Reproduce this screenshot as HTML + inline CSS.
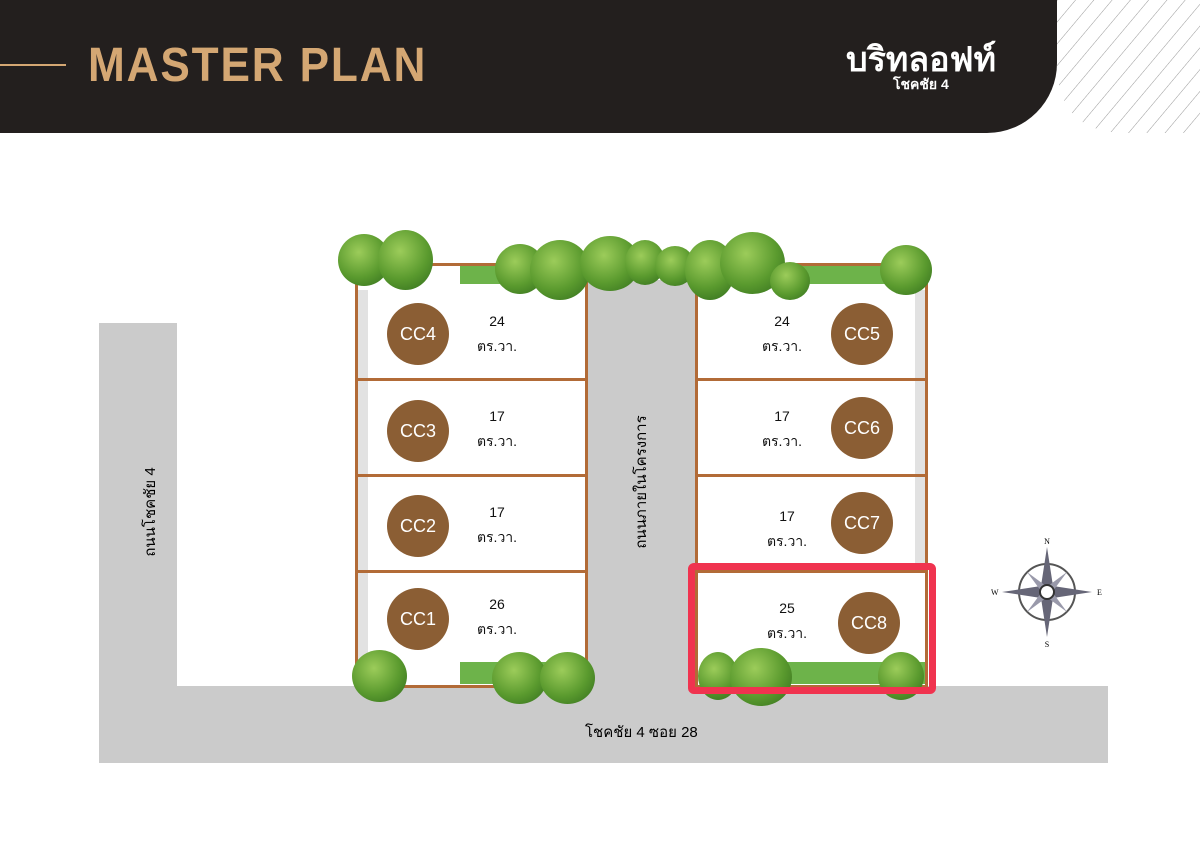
<!DOCTYPE html><html><head><meta charset="utf-8"><style>
body{margin:0;width:1200px;height:849px;position:relative;background:#fff;font-family:"Liberation Sans","Noto Sans CJK SC",sans-serif;overflow:hidden}
.a{position:absolute}
.hdr{left:0;top:0;width:1057px;height:133px;background:#231f1e;border-bottom-right-radius:70px}
.title{left:88px;top:38px;font-size:48px;font-weight:bold;color:#d4a773;letter-spacing:2px;transform:scaleX(0.92);transform-origin:left}
.plot{background:#fff;border:3px solid #b26b37;box-sizing:border-box}
.c{width:62px;height:62px;border-radius:50%;background:#8b5e34;color:#fff;font-size:18px;display:flex;align-items:center;justify-content:center}
.t{font-size:14px;text-align:center;width:70px;line-height:25px;color:#111}
.tree{border-radius:50%;background:radial-gradient(circle at 40% 35%,#9ccc5a,#5a9a2e 55%,#2f6a1c)}
.gray{background:#cbcbcb}
.strip{background:#e2e2e2;width:10px}
</style></head><body>
<div class="a hdr"></div>
<div class="a" style="left:0;top:64px;width:66px;height:2px;background:#d4a773"></div>
<div class="a title">MASTER PLAN</div>
<div class="a" style="left:846px;top:32px;color:#fff;font-size:34px;font-weight:bold;font-family:'Noto Sans CJK SC',sans-serif">บริทลอฟท์</div>
<div class="a" style="left:893px;top:74px;color:#fff;font-size:14px;font-weight:bold">โชคชัย 4</div>
<svg class="a" style="left:1057px;top:0" width="143" height="133"><defs><pattern id="h" width="14" height="14" patternUnits="userSpaceOnUse" patternTransform="rotate(40)"><line x1="0" y1="0" x2="0" y2="14" stroke="#999" stroke-width="1"/></pattern></defs><path d="M0 0H143V133H70Q0 133 0 63Z" fill="url(#h)"/></svg>
<!-- roads -->
<div class="a gray" style="left:99px;top:323px;width:78px;height:440px"></div>
<div class="a gray" style="left:99px;top:686px;width:1009px;height:77px"></div>
<div class="a gray" style="left:587px;top:280px;width:108px;height:406px"></div>
<div class="a" style="left:585px;top:720px;font-size:15px">โชคชัย 4 ซอย 28</div>
<div class="a" style="left:80px;top:500px;font-size:15px;transform:rotate(-90deg);transform-origin:center;width:140px;text-align:center">ถนนโชคชัย 4</div>
<div class="a" style="left:571px;top:470px;font-size:15px;transform:rotate(-90deg);width:140px;text-align:center">ถนนภายในโครงการ</div>
<!-- plots -->
<div class="a plot" style="left:355px;top:263px;width:233px;height:118px"></div>
<div class="a plot" style="left:355px;top:378px;width:233px;height:99px"></div>
<div class="a plot" style="left:355px;top:474px;width:233px;height:99px"></div>
<div class="a plot" style="left:355px;top:570px;width:233px;height:118px"></div>
<div class="a plot" style="left:695px;top:263px;width:233px;height:118px"></div>
<div class="a plot" style="left:695px;top:378px;width:233px;height:99px"></div>
<div class="a plot" style="left:695px;top:474px;width:233px;height:99px"></div>
<div class="a plot" style="left:695px;top:570px;width:233px;height:118px"></div>
<div class="a strip" style="left:358px;top:290px;height:88px"></div>
<div class="a strip" style="left:358px;top:381px;height:93px"></div>
<div class="a strip" style="left:358px;top:477px;height:93px"></div>
<div class="a strip" style="left:358px;top:573px;height:90px"></div>
<div class="a strip" style="left:915px;top:290px;height:88px"></div>
<div class="a strip" style="left:915px;top:381px;height:93px"></div>
<div class="a strip" style="left:915px;top:477px;height:93px"></div>
<div class="a" style="left:460px;top:266px;width:125px;height:18px;background:#6db34a"></div>
<div class="a" style="left:790px;top:266px;width:135px;height:18px;background:#6db34a"></div>
<div class="a" style="left:460px;top:662px;width:125px;height:22px;background:#6db34a"></div>
<div class="a" style="left:760px;top:662px;width:165px;height:22px;background:#6db34a"></div>
<!-- circles -->
<div class="a c" style="left:387px;top:303px">CC4</div><div class="a t" style="left:462px;top:309px">24<br>ตร.วา.</div>
<div class="a c" style="left:387px;top:400px">CC3</div><div class="a t" style="left:462px;top:404px">17<br>ตร.วา.</div>
<div class="a c" style="left:387px;top:495px">CC2</div><div class="a t" style="left:462px;top:500px">17<br>ตร.วา.</div>
<div class="a c" style="left:387px;top:588px">CC1</div><div class="a t" style="left:462px;top:592px">26<br>ตร.วา.</div>
<div class="a c" style="left:831px;top:303px">CC5</div><div class="a t" style="left:747px;top:309px">24<br>ตร.วา.</div>
<div class="a c" style="left:831px;top:397px">CC6</div><div class="a t" style="left:747px;top:404px">17<br>ตร.วา.</div>
<div class="a c" style="left:831px;top:492px">CC7</div><div class="a t" style="left:752px;top:504px">17<br>ตร.วา.</div>
<div class="a c" style="left:838px;top:592px">CC8</div><div class="a t" style="left:752px;top:596px">25<br>ตร.วา.</div>
<!-- trees -->
<div class="a tree" style="left:338px;top:234px;width:52px;height:52px"></div>
<div class="a tree" style="left:378px;top:230px;width:55px;height:60px"></div>
<div class="a tree" style="left:495px;top:244px;width:50px;height:50px"></div>
<div class="a tree" style="left:530px;top:240px;width:60px;height:60px"></div>
<div class="a tree" style="left:580px;top:236px;width:60px;height:55px"></div>
<div class="a tree" style="left:625px;top:240px;width:40px;height:45px"></div>
<div class="a tree" style="left:655px;top:246px;width:40px;height:40px"></div>
<div class="a tree" style="left:685px;top:240px;width:50px;height:60px"></div>
<div class="a tree" style="left:720px;top:232px;width:65px;height:62px"></div>
<div class="a tree" style="left:770px;top:262px;width:40px;height:38px"></div>
<div class="a tree" style="left:880px;top:245px;width:52px;height:50px"></div>
<div class="a tree" style="left:352px;top:650px;width:55px;height:52px"></div>
<div class="a tree" style="left:492px;top:652px;width:55px;height:52px"></div>
<div class="a tree" style="left:540px;top:652px;width:55px;height:52px"></div>
<div class="a tree" style="left:698px;top:652px;width:40px;height:48px"></div>
<div class="a tree" style="left:730px;top:648px;width:62px;height:58px"></div>
<div class="a tree" style="left:878px;top:652px;width:46px;height:48px"></div>
<div class="a" style="left:688px;top:563px;width:248px;height:131px;border:7px solid #f0334f;border-radius:6px;box-sizing:border-box"></div>
<!-- compass -->
<svg class="a" style="left:990px;top:535px" width="115" height="115" viewBox="-57 -57 115 115">
<circle r="28" fill="none" stroke="#555" stroke-width="2"/>
<polygon points="0,-45 6,-6 45,0 6,6 0,45 -6,6 -45,0 -6,-6" fill="#667"/>
<polygon points="-20,-20 3,-3 20,20 -3,3" fill="#99a"/><polygon points="20,-20 3,3 -20,20 -3,-3" fill="#99a"/>
<circle r="7" fill="#fff" stroke="#333" stroke-width="2"/>
<text x="0" y="-48" font-size="8" text-anchor="middle" font-family="Liberation Serif">N</text>
<text x="0" y="55" font-size="8" text-anchor="middle" font-family="Liberation Serif">S</text>
<text x="50" y="3" font-size="8" font-family="Liberation Serif">E</text>
<text x="-56" y="3" font-size="8" font-family="Liberation Serif">W</text>
</svg>
</body></html>
